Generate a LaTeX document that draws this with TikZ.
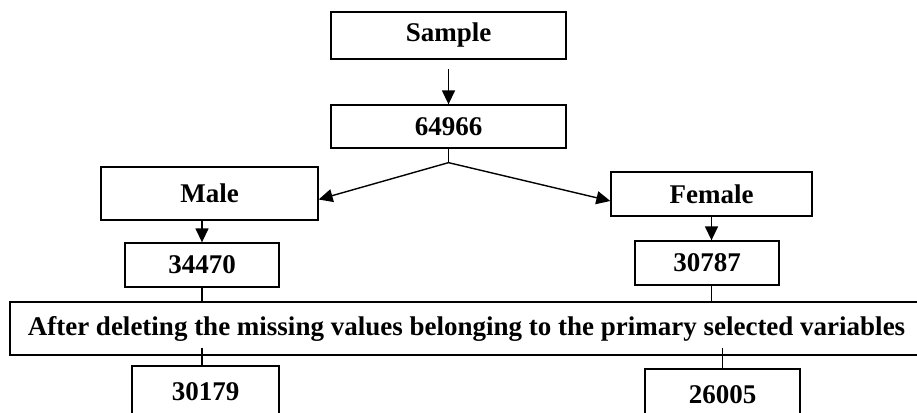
\documentclass[tikz,border=0pt]{standalone}
\usepackage{fontspec}
\setmainfont{Liberation Serif}
\usetikzlibrary{arrows.meta}

\tikzset{
  box/.style={draw, line width=1.3pt, inner sep=0pt,
    font=\bfseries\fontsize{27}{32}\selectfont},
  arr/.style={line width=1.4pt, -{Triangle[length=14pt,width=13pt]}},
  link/.style={line width=1.4pt},
}

\begin{document}
\begin{tikzpicture}[x=1pt,y=1pt]
\useasboundingbox (0,0) rectangle (917,412);

\node[box, minimum width=235pt, minimum height=47pt] (sample) at (448.5,376.5) {Sample};
\node[box, minimum width=235pt, minimum height=43pt] (total) at (448.5,285.5) {64966};
\node[box, minimum width=217pt, minimum height=53pt] (male) at (209.5,218.5) {Male};
\node[box, minimum width=201pt, minimum height=44pt] (female) at (711.5,218) {Female};
\node[box, minimum width=154pt, minimum height=44pt] (m34470) at (202,147) {34470};
\node[box, minimum width=144pt, minimum height=44pt] (f30787) at (707,149) {30787};
\node[box, minimum width=913pt, minimum height=53pt] (note) at (466.5,83.5)
  {After deleting the missing values belonging to the primary selected variables};
\node[box, minimum width=147pt, minimum height=52pt] (m30179) at (205.5,20) {30179};
\node[box, minimum width=155pt, minimum height=52pt] (f26005) at (722.5,17) {26005};

\coordinate (split) at ([yshift=-14pt]total.south);
\coordinate (cut) at ([yshift=8pt]note.south);

\draw[arr] ([yshift=-9pt]sample.south) -- (total.north);
\draw[link] (total.south) -- (split);
\draw[arr] (split) -- ([yshift=-6pt]male.east);
\draw[arr] (split) -- ([yshift=-7pt]female.west);
\draw[arr] (m34470.north |- male.south) -- (m34470.north);
\draw[arr] (female.south) -- (female.south |- f30787.north);
\draw[link] (m34470.south) -- (m34470.south |- note.north);
\draw[link] (female.south |- f30787.south) -- (female.south |- note.north);
\draw[link] (cut -| m34470.south) -- (m34470.south |- m30179.north);
\draw[link] (cut -| f26005.north) -- (f26005.north);
\end{tikzpicture}
\end{document}
